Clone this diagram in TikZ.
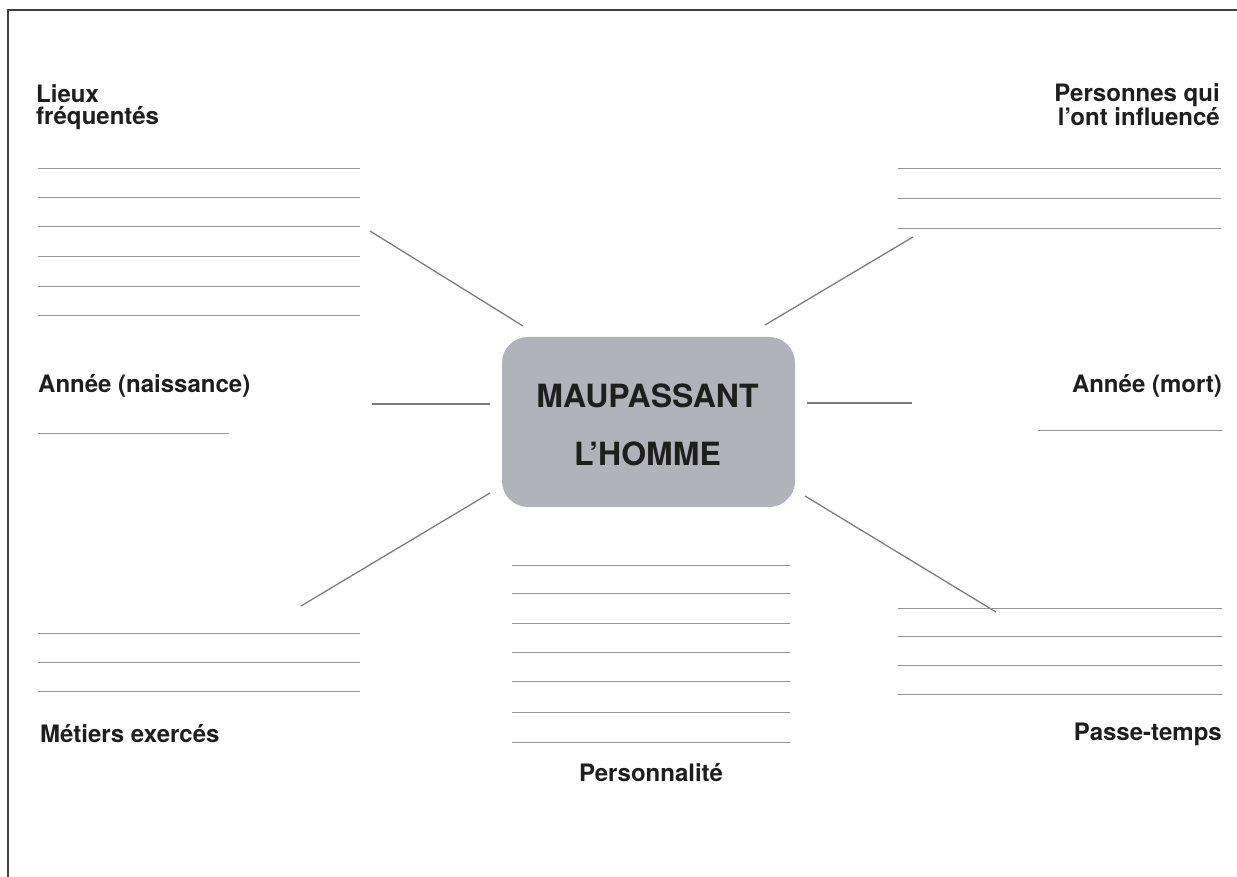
\documentclass[tikz,border=0pt]{standalone}
\usepackage{fontspec}
\setmainfont{TeX Gyre Heros}
\definecolor{boxgray}{RGB}{178,178,186}
\definecolor{ink}{RGB}{30,30,30}
\definecolor{rulegray}{RGB}{150,150,150}
\definecolor{conngray}{RGB}{125,125,125}
\begin{document}
\begin{tikzpicture}[x=1pt,y=-1pt,
  lbl/.style={font=\fontsize{24}{22}\selectfont\bfseries, text=ink, inner sep=0pt},
  ttl/.style={font=\fontsize{32}{32}\selectfont\bfseries, text=ink, inner sep=0pt, anchor=base},
  rule/.style={draw=rulegray, line width=0.9pt},
  conn/.style={draw=conngray, line width=1.3pt},
  frame/.style={draw=ink!85, line width=2.2pt}]
\useasboundingbox (0,0) rectangle (1237,877);
\draw[frame] (8,877) -- (8,10) -- (1237,10);

% central box
\node[fill=boxgray, rounded corners=26pt, minimum width=293pt, minimum height=170pt, inner sep=0pt] (box) at (648.5,422) {};
\node[ttl] (t1) at (647.5,407) {MAUPASSANT};
\node[ttl] (t2) at (647.5,465) {L’HOMME};

% labels
\node[lbl, anchor=base west, align=left] (lieux) at (36,125) {Lieux\\fréquentés};
\node[lbl, anchor=base east, align=right] (pers) at (1220,126) {Personnes qui\\l’ont influencé};
\node[lbl, anchor=base west] (naiss) at (38,392) {Année (naissance)};
\node[lbl, anchor=base east] (mort) at (1222,392) {Année (mort)};
\node[lbl, anchor=base west] (metiers) at (40,742) {Métiers exercés};
\node[lbl, anchor=base east] (passe) at (1222,740) {Passe-temps};
\node[lbl, anchor=base] (perso) at (651,781) {Personnalité};

% connector ends
\coordinate (tlA) at (523,326); \coordinate (tlB) at (370,231);
\coordinate (trA) at (765,325); \coordinate (trB) at (913,237);
\coordinate (mlA) at (490,404); \coordinate (mlB) at (372,404);
\coordinate (mrA) at (807,403); \coordinate (mrB) at (912,403);
\coordinate (blA) at (490,493); \coordinate (blB) at (301,606);
\coordinate (brA) at (805,496); \coordinate (brB) at (996,612);
\draw[conn] (tlA) -- (tlB);
\draw[conn] (trA) -- (trB);
\draw[conn] (mlA) -- (mlB);
\draw[conn] (mrA) -- (mrB);
\draw[conn] (blA) -- (blB);
\draw[conn] (brA) -- (brB);

% writing rules
\foreach \y in {168,197,226,256,286,315} \draw[rule] (38,\y) -- (360,\y);
\foreach \y in {168,198,228} \draw[rule] (898,\y) -- (1221,\y);
\draw[rule] (38,433) -- (229,433);
\draw[rule] (1038,430) -- (1222,430);
\foreach \y in {633,662,691} \draw[rule] (38,\y) -- (360,\y);
\foreach \y in {608,636,665,694} \draw[rule] (898,\y) -- (1222,\y);
\foreach \y in {565,593,623,652,681,712,742} \draw[rule] (512,\y) -- (790,\y);
\end{tikzpicture}
\end{document}
